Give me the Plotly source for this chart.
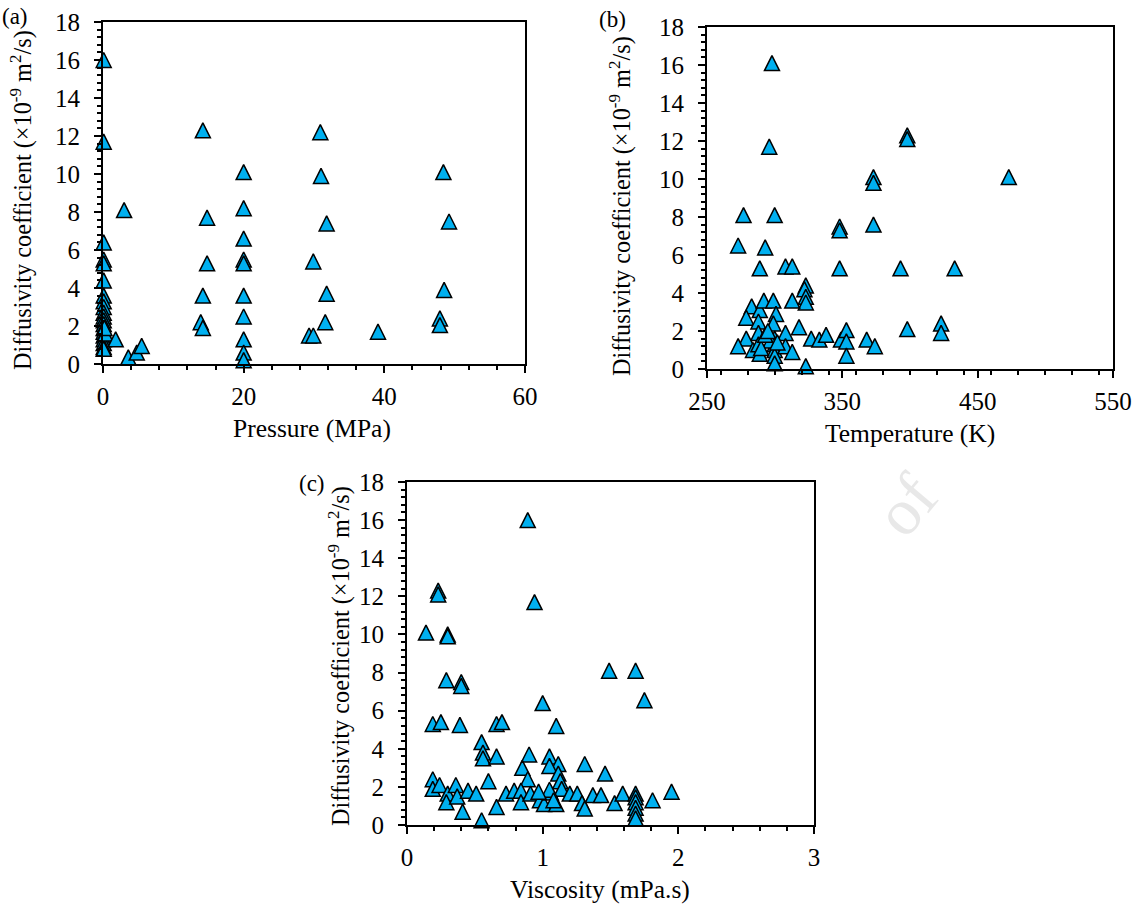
import plotly.graph_objects as go

W, H = 1141, 908

# ---------------- data ----------------
# (a) Pressure (MPa) vs diffusivity (1e-9 m2/s)
pressure = [0.1, 0.1, 0.1, 0.1, 0.1, 0.1, 0.1, 0.1, 0.1, 0.1, 0.1, 0.1, 0.1, 0.1, 0.1, 0.1, 0.1, 0.1, 0.1, 0.1,
            0.3, 0.2, 1.8, 3.0, 3.6, 4.8, 5.5,
            14.2, 14.8, 14.8, 14.2, 13.9, 14.2,
            20, 20, 20, 20, 20, 20, 20, 20, 20, 20,
            30.9, 31.0, 31.8, 29.9, 31.8, 31.6, 29.3, 29.9, 39.1,
            48.4, 49.2, 48.5, 47.9, 47.9]
diff_a = [16.0, 11.7, 6.4, 5.5, 5.3, 4.4, 3.6, 3.3, 3.0, 2.7, 2.5, 2.3, 2.1, 1.9, 1.7, 1.5, 1.3, 1.1, 0.9, 0.8,
          1.6, 1.9, 1.3, 8.1, 0.35, 0.6, 0.95,
          12.3, 7.7, 5.3, 3.6, 2.2, 1.9,
          10.1, 8.2, 6.6, 5.5, 5.3, 3.6, 2.5, 1.3, 0.6, 0.2,
          12.2, 9.9, 7.4, 5.4, 3.7, 2.2, 1.5, 1.5, 1.7,
          10.1, 7.5, 3.9, 2.4, 2.05]

# (b) Temperature (K) vs diffusivity
temperature = [298, 296, 277, 300, 273, 293, 289, 308, 313, 348, 348, 348,
               323, 322, 323, 323, 313, 283, 289, 292, 299, 301, 279, 288, 299, 318,
               308, 288, 279, 273, 284, 288, 300, 300, 300, 300, 300, 297, 308, 313, 323,
               327, 333, 338, 349, 353, 353, 353, 368, 374,
               398, 398, 373, 373, 473, 373, 393, 433, 398, 423, 423,
               289, 290, 293, 295, 302]
diff_b = [16.1, 11.7, 8.1, 8.1, 6.5, 6.4, 5.3, 5.4, 5.4, 7.5, 7.3, 5.3,
          4.4, 4.2, 3.8, 3.5, 3.6, 3.3, 3.1, 3.6, 3.6, 2.9, 2.7, 2.5, 2.4, 2.2,
          1.9, 1.9, 1.6, 1.2, 1.0, 1.3, 1.6, 1.3, 1.0, 0.7, 0.3, 1.5, 1.2, 0.9, 0.15,
          1.6, 1.55, 1.8, 1.55, 2.05, 1.45, 0.7, 1.55, 1.2,
          12.3, 12.1, 10.1, 9.8, 10.1, 7.6, 5.3, 5.3, 2.1, 2.4, 1.9,
          0.8, 1.1, 1.8, 2.0, 1.4]

# (c) Viscosity (mPa.s) vs diffusivity
viscosity = [0.89, 0.94, 0.23, 0.23, 0.14, 0.30, 0.30, 0.29, 0.40, 0.40, 1.00, 0.19, 0.25, 0.39,
             0.66, 0.70, 1.10, 0.55, 0.56, 0.56, 0.66, 0.90, 0.85, 0.89, 0.19, 0.19, 0.24, 0.30,
             0.29, 0.36, 0.37, 0.41, 0.45, 0.51, 0.55, 0.60, 0.66, 0.73, 0.79, 0.84, 0.84, 0.91,
             0.98, 1.01, 1.06, 1.10, 1.49, 1.685, 1.75, 1.05, 1.115, 1.05, 1.31, 1.46, 1.115,
             1.13, 1.14, 1.05, 1.20, 1.255, 1.29, 1.31, 1.37, 1.43, 1.53, 1.59, 1.685, 1.685,
             1.685, 1.685, 1.685, 1.685, 1.81, 1.95, 0.97, 1.08]
diff_c = [16.0, 11.7, 12.3, 12.1, 10.1, 10.0, 9.9, 7.6, 7.5, 7.3, 6.4, 5.3, 5.4, 5.25,
          5.3, 5.4, 5.2, 4.35, 3.8, 3.5, 3.6, 3.7, 3.0, 2.4, 2.4, 1.9, 2.1, 1.65,
          1.2, 2.1, 1.5, 0.7, 1.8, 1.65, 0.25, 2.3, 0.95, 1.65, 1.8, 1.8, 1.2, 1.65,
          1.3, 1.1, 1.7, 1.1, 8.1, 8.1, 6.55, 3.6, 3.2, 3.1, 3.2, 2.7, 2.7,
          2.3, 1.9, 1.85, 1.65, 1.65, 1.15, 0.87, 1.57, 1.57, 1.15, 1.65, 1.65, 1.45,
          1.2, 0.9, 0.6, 0.35, 1.3, 1.75, 1.75, 1.3]

y_title = "Diffusivity coefficient (×10<sup>-9</sup> m<sup>2</sup>/s)"

FONT = "Liberation Serif"
FILL = "#00B0F0"
MSIZE = 15
TITLE_SIZE = 25.5
YTITLE_SIZE = 24.3

# plot-area boxes in pixels: (left, right, top, bottom)
boxes = {
    "a": (103, 525, 22, 364),
    "b": (707, 1113, 27, 369),
    "c": (407, 814, 482, 825),
}
xspec = {
    "a": dict(range=[0, 60], dtick=20, minor=4, title="Pressure (MPa)"),
    "b": dict(range=[250, 550], dtick=100, minor=20, title="Temperature (K)"),
    "c": dict(range=[0, 3], dtick=1, minor=0.2, title="Viscosity (mPa.s)"),
}
series = {"a": (pressure, diff_a), "b": (temperature, diff_b), "c": (viscosity, diff_c)}


def px(x):
    return x / W


def py(y):
    return 1 - y / H


fig = go.Figure()
layout = dict(template="none", width=W, height=H, margin=dict(l=0, r=0, t=0, b=0, pad=0),
              paper_bgcolor="white", plot_bgcolor="white", showlegend=False,
              font=dict(family=FONT, color="black"))

for i, k in enumerate(["a", "b", "c"]):
    n = i + 1
    l, r, t, b = boxes[k]
    xs = xspec[k]
    xname = "xaxis" if n == 1 else f"xaxis{n}"
    yname = "yaxis" if n == 1 else f"yaxis{n}"
    xid = "x" if n == 1 else f"x{n}"
    yid = "y" if n == 1 else f"y{n}"
    axis_common = dict(showgrid=False, zeroline=False, showline=True, mirror=True,
                       automargin=False,
                       linecolor="black", linewidth=2, ticks="outside", ticklen=7,
                       tickwidth=1.5, tickcolor="black",
                       tickfont=dict(family=FONT, size=25, color="black"),
                       fixedrange=True)
    layout[xname] = dict(axis_common, domain=[px(l), px(r)], range=xs["range"],
                         tick0=xs["range"][0], dtick=xs["dtick"], anchor=yid,
                         ticklabelstandoff=2,
                         minor=dict(dtick=xs["minor"], ticks="outside", ticklen=4,
                                    tickwidth=1.5, tickcolor="black", showgrid=False))
    layout[yname] = dict(axis_common, domain=[py(b), py(t)], range=[0, 18], dtick=2,
                         anchor=xid, ticklabelstandoff=9,
                         minor=dict(dtick=0.4, ticks="outside", ticklen=4,
                                    tickwidth=1.5, tickcolor="black", showgrid=False))
    # base subplot (frame, ticks) needs a trace so that it is created
    fig.add_trace(go.Scatter(x=[None], y=[None], xaxis=xid, yaxis=yid, mode="markers",
                             hoverinfo="skip", showlegend=False))
    # overlay axis so that the 'arrow-up' marker (tip anchored) is centred on its value
    ppu = (b - t) / 18.0
    shift = (MSIZE / 2) / ppu
    oname = f"yaxis{n + 3}"
    oid = f"y{n + 3}"
    layout[oname] = dict(overlaying=yid, range=[-shift, 18 - shift], visible=False,
                         automargin=False, fixedrange=True, anchor=xid,
                         domain=[py(b), py(t)])
    xv, yv = series[k]
    fig.add_trace(go.Scatter(x=xv, y=yv, xaxis=xid, yaxis=oid, mode="markers",
                             cliponaxis=False,
                             marker=dict(symbol="arrow-up", size=MSIZE, color=FILL,
                                         line=dict(color="black", width=1.5))))

ann = []
# panel labels
for txt, (x, y) in {"(a)": (15, 17), "(b)": (612, 20), "(c)": (312, 483)}.items():
    ann.append(dict(text=txt, x=px(x), y=py(y), xref="paper", yref="paper",
                    xanchor="center", yanchor="middle", showarrow=False,
                    font=dict(family=FONT, size=23, color="black")))
# y titles
for (x, y) in [(22, 200), (620, 206), (339, 656)]:
    ann.append(dict(text=y_title, x=px(x), y=py(y), xref="paper", yref="paper",
                    xanchor="center", yanchor="middle", showarrow=False, textangle=-90,
                    font=dict(family=FONT, size=YTITLE_SIZE, color="black")))
# x titles
for k, (x, y) in zip(["a", "b", "c"], [(312, 428), (910, 433), (600, 889)]):
    ann.append(dict(text=xspec[k]["title"], x=px(x), y=py(y), xref="paper", yref="paper",
                    xanchor="center", yanchor="middle", showarrow=False,
                    font=dict(family=FONT, size=TITLE_SIZE, color="black")))
# faint watermark fragment
ann.append(dict(text="of", x=px(905), y=py(505), xref="paper", yref="paper",
                xanchor="center", yanchor="middle", showarrow=False, textangle=-50,
                font=dict(family=FONT, size=66, color="#e8e8e8")))
layout["annotations"] = ann

fig.update_layout(**layout)
fig.write_html("out.html")
